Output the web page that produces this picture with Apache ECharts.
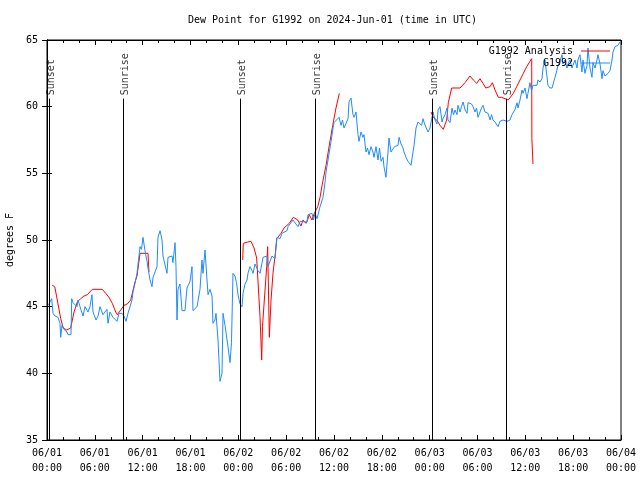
<!DOCTYPE html>
<html>
<head>
<meta charset="utf-8">
<script src="https://cdn.jsdelivr.net/npm/echarts@6/dist/echarts.min.js"></script>
<style>html,body{margin:0;padding:0;background:#fff}#c{width:640px;height:480px}</style>
</head>
<body>
<div id="c"></div>
<script>
// Hours since 2024-06-01 00:00 UTC, dew point (F)
var analysisSeries = [
[0.66,46.6],[0.97,46.5],[1.29,45.5],[1.72,44.1],[2.04,43.4],[2.47,43.25],[2.97,43.4],[3.39,44.6],[3.8,45.35],[4.23,45.6],
[4.64,45.8],[5.06,45.9],[5.68,46.3],[6.94,46.3],[7.36,46.0],[7.78,45.7],[8.19,45.25],[8.62,44.6],[8.82,44.4],[9.25,44.75],
[9.66,45.1],[10.07,45.2],[10.5,45.5],[10.66,45.9],[11.04,46.85],[11.29,47.3],[11.67,49.0],[11.92,49.0],[12.67,49.0],[12.79,47.6],
[18,'-'],
[24.55,48.5],[24.62,49.75],[25.18,49.85],[25.59,49.9],[25.97,49.4],[26.3,48.65],[26.72,44.25],[26.93,41.0],[27.03,43.5],[27.26,45.5],
[27.56,48.0],[27.68,49.5],[27.89,42.7],[28.1,45.5],[28.35,47.5],[28.64,49.0],[28.81,50.1],[29.35,50.5],[29.73,50.9],[30.39,51.25],
[30.9,51.7],[31.45,51.5],[31.86,51.05],[32.11,51.5],[32.49,51.25],[32.68,51.5],[32.9,51.9],[33.24,51.5],[33.53,52.0],[33.96,52.5],
[34.25,53.2],[34.58,54.35],[35.0,55.6],[35.41,57.1],[35.84,58.6],[36.25,59.9],[36.67,61.0],
[42,'-'],
[48.17,59.6],[48.46,59.2],[48.88,59.0],[49.3,58.6],[49.71,58.3],[49.92,58.4],[50.13,59.0],[50.34,60.3],[50.76,61.4],[51.81,61.4],
[52.02,61.4],[52.43,61.8],[52.65,61.9],[53.06,62.3],[53.48,62.0],[53.9,61.75],[54.31,62.1],[54.69,61.75],[55.03,61.4],[55.57,61.5],
[55.86,61.8],[56.2,61.25],[56.61,60.7],[57.03,60.7],[57.45,60.6],[57.86,60.5],[58.08,60.35],[58.49,61.0],[58.92,61.5],[59.33,62.0],
[59.75,62.5],[60.17,63.0],[60.58,63.4],[60.8,63.6],[60.82,57.6],[60.96,55.7]
];
var stationSeries = [
[0.16,45.1],[0.59,45.6],[0.75,44.5],[1.0,44.3],[1.38,44.2],[1.63,43.75],[1.72,42.7],[1.88,43.6],[2.13,43.3],[2.51,43.1],
[2.63,42.9],[3.01,42.9],[3.1,45.6],[3.26,45.3],[3.76,45.0],[3.89,45.5],[4.14,45.0],[4.52,44.3],[4.77,45.0],[5.14,44.6],
[5.39,45.0],[5.64,45.9],[5.77,44.6],[6.15,44.0],[6.4,44.3],[6.65,45.0],[7.02,44.4],[7.52,44.8],[7.65,43.75],[7.9,44.6],
[8.28,44.2],[8.78,43.9],[9.03,44.5],[9.41,44.5],[9.66,44.3],[9.91,43.9],[10.16,44.5],[10.41,44.4],[10.66,45.5],[10.79,46.1],
[11.04,46.75],[11.29,47.5],[11.42,48.2],[11.67,49.5],[11.85,49.3],[12.04,50.2],[12.29,49.2],[12.54,48.4],[12.67,47.9],[12.92,47.0],
[13.17,46.5],[13.3,47.2],[13.8,48.0],[13.92,50.2],[14.18,50.7],[14.43,50.0],[14.55,48.8],[15.05,47.5],[15.18,48.7],[15.68,48.8],
[15.8,48.3],[16.06,49.8],[16.18,48.0],[16.31,44.0],[16.43,46.3],[16.68,46.7],[16.93,44.7],[17.31,44.7],[17.56,46.4],[17.94,46.9],
[18.19,48.0],[18.31,44.7],[18.82,45.0],[18.94,45.0],[19.19,46.3],[19.44,48.5],[19.57,47.5],[19.82,49.25],[20.07,47.0],[20.2,45.9],
[20.45,46.3],[20.7,45.8],[20.82,43.75],[21.07,44.0],[21.2,44.5],[21.45,42.5],[21.7,39.4],[21.95,40.0],[22.08,44.5],[22.33,43.6],
[22.7,42.0],[22.96,40.8],[23.14,42.3],[23.33,47.5],[23.58,47.3],[23.77,46.8],[23.96,45.9],[24.21,45.2],[24.46,45.0],[24.59,46.0],
[24.84,46.7],[25.09,47.0],[25.21,47.5],[25.46,48.0],[25.72,47.7],[25.84,47.5],[26.09,48.2],[26.47,47.7],[26.72,47.5],[26.97,47.6],
[27.1,48.7],[27.6,48.8],[27.72,48.0],[27.97,48.1],[28.22,48.8],[28.6,48.6],[28.85,50.2],[29.23,50.1],[29.48,50.5],[30.11,50.7],
[30.23,51.0],[30.48,51.1],[30.86,51.5],[31.23,51.2],[31.49,51.0],[31.74,51.4],[32.61,51.35],[32.74,51.9],[33.24,52.0],[33.43,51.5],
[33.62,52.0],[33.87,51.6],[34.25,52.5],[34.62,53.2],[34.87,54.3],[35.0,55.1],[35.25,56.0],[35.37,55.9],[35.63,57.4],[35.88,58.4],
[36.0,58.8],[36.25,58.8],[36.63,59.2],[36.88,58.6],[37.07,59.0],[37.26,58.4],[37.51,58.4],[37.76,59.1],[37.88,60.35],[38.13,60.65],
[38.38,59.4],[38.51,59.2],[38.76,59.6],[39.01,57.9],[39.14,57.4],[39.39,58.1],[39.64,57.7],[39.76,57.9],[40.01,56.6],[40.2,56.9],
[40.39,56.4],[40.64,57.0],[40.89,56.6],[41.02,56.2],[41.27,57.0],[41.52,56.0],[41.71,56.9],[41.9,55.9],[42.15,56.2],[42.27,55.5],
[42.52,54.7],[42.77,56.6],[42.9,57.65],[43.15,56.6],[43.4,56.6],[43.59,57.0],[43.78,57.1],[44.03,57.1],[44.16,57.7],[44.41,57.2],
[44.66,56.9],[44.78,56.6],[45.03,56.2],[45.28,55.9],[45.66,55.6],[45.85,55.6],[46.04,57.1],[46.29,58.4],[46.54,58.85],[46.79,58.7],
[46.98,58.6],[47.17,59.1],[47.36,58.7],[47.54,58.6],[47.79,58.1],[48.04,58.4],[48.42,59.6],[48.67,59.0],[48.92,58.7],[49.05,59.75],
[49.3,60.0],[49.55,58.85],[49.67,59.1],[49.92,59.4],[50.18,59.9],[50.3,59.0],[50.55,58.8],[50.8,59.9],[50.99,59.4],[51.18,59.75],
[51.43,59.4],[51.55,60.1],[51.81,59.6],[51.99,60.0],[52.19,60.35],[52.44,59.75],[52.69,59.5],[52.81,60.3],[53.06,60.3],[53.25,60.2],
[53.44,60.0],[53.69,59.6],[53.88,59.9],[54.06,59.2],[54.31,59.6],[54.5,59.9],[54.69,60.1],[54.94,59.6],[55.19,59.5],[55.32,59.5],
[55.57,59.0],[55.76,59.4],[55.94,59.0],[56.2,58.85],[56.45,58.85],[56.57,58.5],[56.82,58.9],[57.2,59.0],[57.45,58.9],[57.7,58.9],
[57.83,59.0],[58.08,59.0],[58.33,59.4],[58.46,59.5],[58.71,59.8],[58.96,60.3],[59.08,59.9],[59.33,60.5],[59.58,61.25],[59.71,61.0],
[59.96,61.4],[60.21,60.6],[60.33,61.0],[60.58,61.8],[60.77,61.2],[60.96,61.6],[61.21,61.6],[61.46,61.6],[61.58,62.0],[61.84,61.85],
[62.09,62.1],[62.22,62.9],[62.47,63.5],[62.72,63.5],[62.84,61.6],[63.09,61.4],[63.35,61.4],[63.47,61.5],[63.72,62.2],[63.97,62.75],
[64.1,63.1],[64.35,63.4],[64.6,63.9],[64.72,63.2],[64.97,63.5],[65.22,62.9],[65.35,63.2],[65.6,63.5],[65.85,62.9],[65.97,63.1],
[66.23,63.5],[66.48,62.9],[66.6,63.5],[66.85,63.9],[67.1,62.6],[67.23,63.5],[67.48,62.5],[67.73,63.1],[67.86,64.4],[68.11,62.9],
[68.36,62.2],[68.48,63.3],[68.74,62.9],[68.99,63.5],[69.11,63.9],[69.37,63.2],[69.62,62.1],[69.74,62.7],[69.99,62.3],[70.24,62.2],
[70.37,62.5],[70.62,62.7],[70.87,63.5],[71.0,64.1],[71.25,64.5],[71.5,64.4],[71.62,64.6],[71.87,64.85]
];
var sunHours = [0.29, 9.57, 24.25, 33.66, 48.33, 57.6];
var sunLabels = ['Sunset', 'Sunrise', 'Sunset', 'Sunrise', 'Sunset', 'Sunrise'];
var sunLineTop = 60.6;
var dayLabels = ['06/01', '06/02', '06/03', '06/04'];
var seriesNames = ['G1992 Analysis', 'G1992'];
var seriesColors = ['#ff0000', '#1e8cff'];

var FONT = 'DejaVu Sans Mono';
var chart = echarts.init(document.getElementById('c'), null, {renderer: 'canvas'});

function xLabel(v) {
  var d = Math.floor(v / 24 + 1e-6);
  var h = Math.round(v - d * 24);
  return dayLabels[d] + '\n' + (h < 10 ? '0' : '') + h + ':00';
}

var sunLineData = sunHours.map(function (h) {
  return [{coord: [h, 35]}, {coord: [h, sunLineTop]}];
});
var sunLabelData = sunHours.map(function (h, i) {
  return {value: [h, sunLineTop + 0.25], name: sunLabels[i]};
});

var option = {
  backgroundColor: '#ffffff',
  animation: false,
  title: {
    text: 'Dew Point for G1992 on 2024-Jun-01 (time in UTC)',
    left: 183, top: 10,
    textStyle: {fontFamily: FONT, fontSize: 10, fontWeight: 'normal', color: '#000'}
  },
  legend: {
    data: [
      {name: seriesNames[0], icon: 'rect', itemStyle: {color: seriesColors[0]}},
      {name: seriesNames[1], icon: 'rect', itemStyle: {color: seriesColors[1]}}
    ],
    orient: 'vertical',
    right: 25, top: 40,
    align: 'right',
    itemWidth: 29, itemHeight: 1, itemGap: 0,
    textStyle: {fontFamily: FONT, fontSize: 10, color: '#000', lineHeight: 12, padding: [0, 3, 0, 0]}
  },
  grid: {left: 47, right: 19, top: 40, bottom: 40, show: true, borderColor: '#000', borderWidth: 1,
         containLabel: false, outerBoundsMode: 'none'},
  xAxis: [{
    type: 'value', min: 0, max: 72, interval: 6,
    axisLine: {show: true, lineStyle: {color: '#000'}},
    axisTick: {show: true, inside: true, length: 5, lineStyle: {color: '#000'}},
    minorTick: {show: true, splitNumber: 3, length: 3, lineStyle: {color: '#000'}},
    splitLine: {show: false},
    axisLabel: {formatter: xLabel, fontFamily: FONT, fontSize: 10, color: '#000', margin: 6, lineHeight: 15}
  }, {
    type: 'value', min: 0, max: 72, interval: 6, position: 'top',
    axisLine: {show: true, lineStyle: {color: '#000'}},
    axisTick: {show: true, inside: true, length: 5, lineStyle: {color: '#000'}},
    minorTick: {show: true, splitNumber: 3, length: 3, lineStyle: {color: '#000'}},
    splitLine: {show: false},
    axisLabel: {show: false}
  }],
  yAxis: [{
    type: 'value', min: 35, max: 65, interval: 5,
    name: 'degrees F', nameLocation: 'middle', nameGap: 32,
    nameTextStyle: {fontFamily: FONT, fontSize: 10, color: '#000'},
    axisLine: {show: true, lineStyle: {color: '#000'}},
    axisTick: {show: true, inside: true, length: 5, lineStyle: {color: '#000'}},
    splitLine: {show: false},
    axisLabel: {fontFamily: FONT, fontSize: 10, color: '#000', margin: 9}
  }, {
    type: 'value', min: 35, max: 65, interval: 5, position: 'right',
    axisLine: {show: true, lineStyle: {color: '#000'}},
    axisTick: {show: true, inside: true, length: 5, lineStyle: {color: '#000'}},
    splitLine: {show: false},
    axisLabel: {show: false}
  }],
  series: [{
    name: seriesNames[0], type: 'line', data: analysisSeries,
    symbol: 'none', connectNulls: false,
    lineStyle: {color: seriesColors[0], width: 1}, itemStyle: {color: seriesColors[0]}
  }, {
    name: seriesNames[1], type: 'line', data: stationSeries,
    symbol: 'none',
    lineStyle: {color: seriesColors[1], width: 1}, itemStyle: {color: seriesColors[1]}
  }, {
    name: 'sun', type: 'line', data: [], silent: true,
    markLine: {
      silent: true, symbol: 'none', animation: false,
      lineStyle: {color: '#000', width: 1, type: 'solid'},
      label: {show: false},
      data: sunLineData
    }
  }, {
    name: 'sunLabels', type: 'scatter', data: sunLabelData, symbolSize: 0, silent: true,
    label: {
      show: true, formatter: function (p) { return p.name; },
      position: [2, 0], rotate: 90, align: 'left', verticalAlign: 'middle',
      fontFamily: FONT, fontSize: 10, color: '#000'
    }
  }]
};
chart.setOption(option);
</script>
</body>
</html>
